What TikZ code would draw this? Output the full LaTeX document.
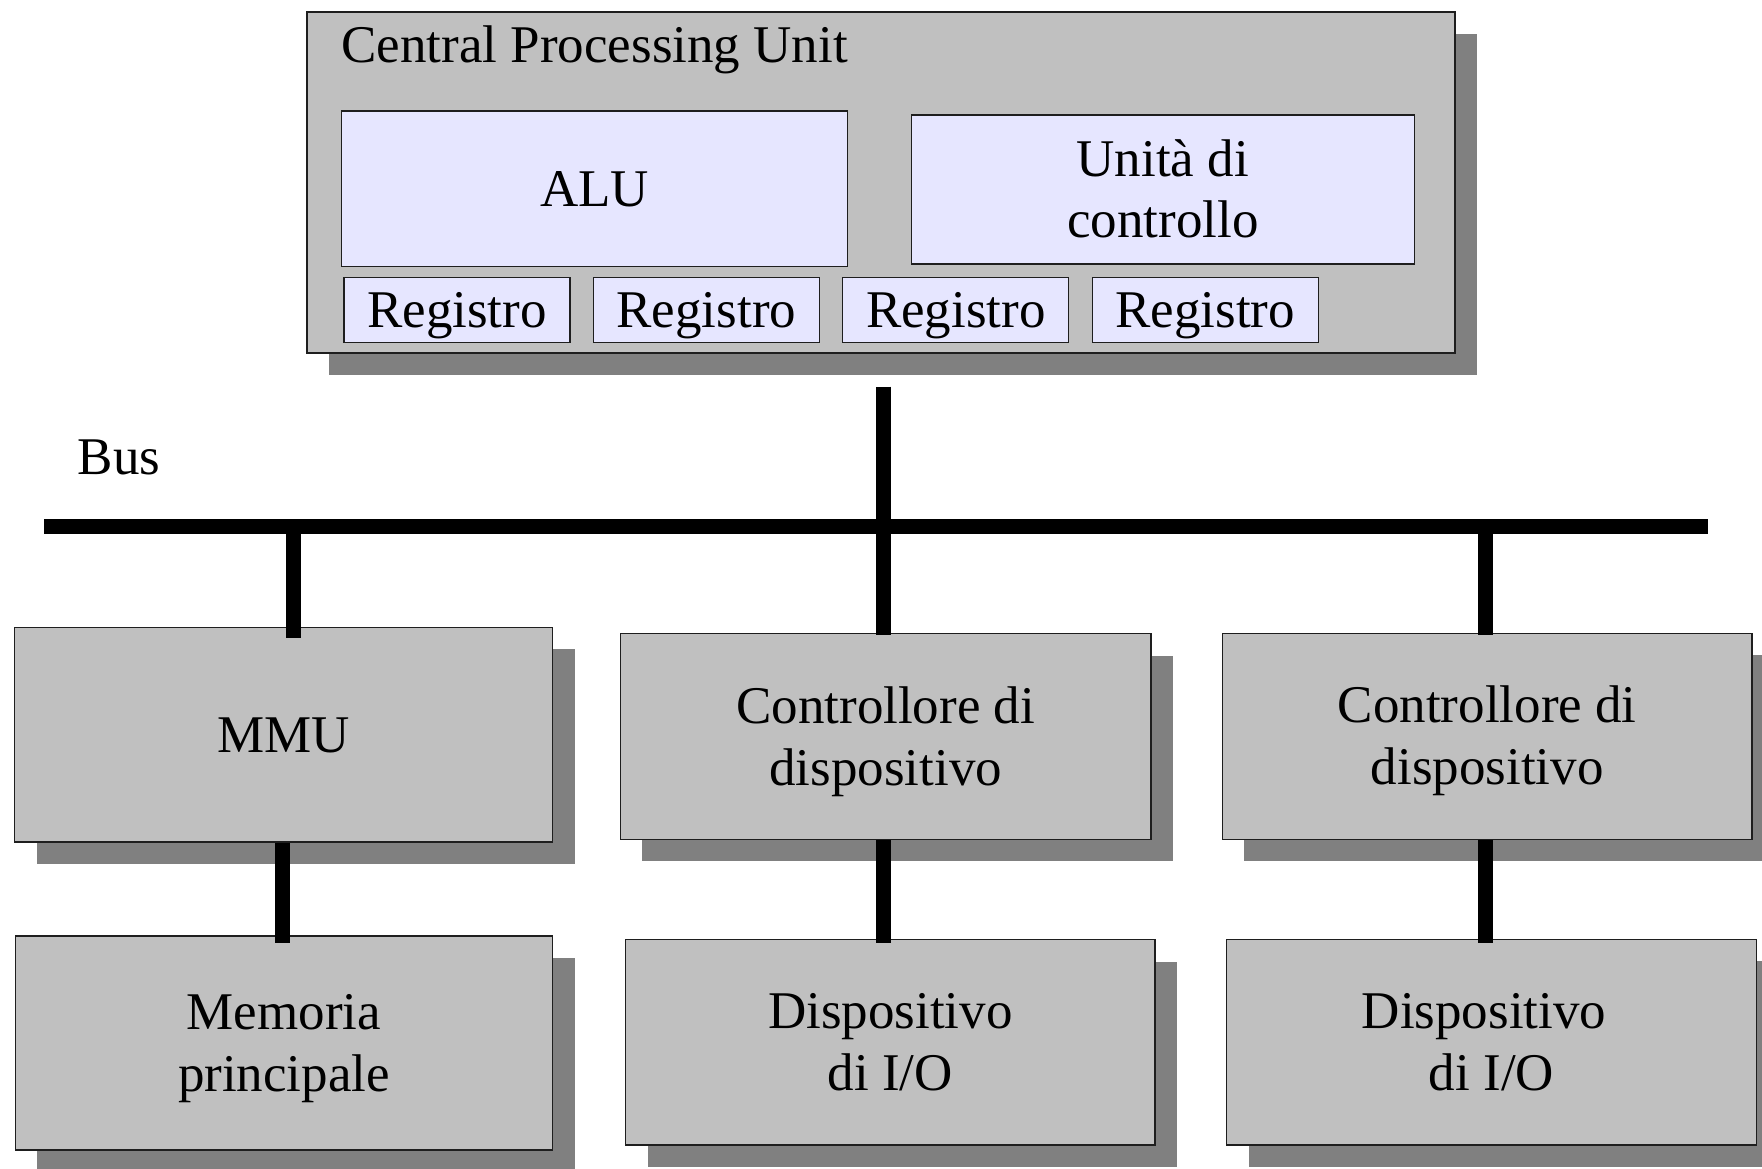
\documentclass[tikz,border=0pt]{standalone}
\usepackage{fontspec}
\setmainfont{Liberation Serif}
\usetikzlibrary{shadows,calc}

\definecolor{boxgray}{RGB}{192,192,192}
\definecolor{shadowgray}{RGB}{128,128,128}
\definecolor{lavender}{RGB}{230,230,255}
\definecolor{edge}{RGB}{30,30,30}

\begin{document}
\begin{tikzpicture}[x=1pt,y=-1pt,
  every node/.style={font=\fontsize{53pt}{62pt}\selectfont},
  % grey component box with a solid drop shadow
  unit/.style={draw=edge, line width=1.3pt, fill=boxgray, inner sep=0pt,
    align=center, text height=97pt, text depth=0pt,
    drop shadow={shadow xshift=22pt, shadow yshift=-22pt,
      fill=shadowgray, opacity=1}},
  % light parts inside the CPU
  part/.style={draw=edge, line width=1.3pt, fill=lavender, inner sep=0pt,
    align=center, text height=35pt, text depth=0pt},
  single/.style={text height=35pt, text depth=0pt},
  caption/.style={anchor=base west, inner sep=0pt},
  wire/.style={line width=15pt, black},
]
\useasboundingbox (0,0) rectangle (1762,1169);
\fill[white] (0,0) rectangle (1762,1169);

% Central processing unit with its internal parts
\node[unit, minimum width=1148pt, minimum height=341pt] (cpu) at (881,182.5) {};
\node[caption] (cputitle) at ($(cpu.north west)+(35,51)$) {Central Processing Unit};
\node[part, minimum width=506pt, minimum height=155.7pt] (alu) at (594.6,188.9) {ALU};
\node[part, text height=97pt, minimum width=502.8pt, minimum height=149pt] (cu)
  at (1162.8,189.5) {Unità di\\controllo};
\foreach \i in {0,...,3}
  \node[part, minimum width=226pt, minimum height=65pt] (reg\i)
    at (457+249.4*\i,309.8) {Registro};

% bus
\coordinate (busW) at (44,526);
\coordinate (busE) at (1708,526);
\node[caption] (buslabel) at (77.5,474) {Bus};

% units attached to the bus
\node[unit, single, minimum width=538pt, minimum height=214.7pt] (mmu) at (283.5,734.7) {MMU};
\node[unit, minimum width=530.7pt, minimum height=205.6pt] (ctrlA) at (885.7,736.5)
  {Controllore di\\dispositivo};
\node[unit, minimum width=529.7pt, minimum height=206pt] (ctrlB) at (1487.2,736.3)
  {Controllore di\\dispositivo};

% memory and devices
\node[unit, minimum width=537.3pt, minimum height=214pt] (mem) at (284,1043)
  {Memoria\\principale};
\node[unit, minimum width=529.4pt, minimum height=205.3pt] (devA) at (890.3,1042.3)
  {Dispositivo\\di I/O};
\node[unit, minimum width=530pt, minimum height=205.7pt] (devB) at (1491.5,1042.2)
  {Dispositivo\kern15pt\\di I/O};

% connections
\draw[wire] (busW) -- (busE);
\coordinate (cpuport) at ($(cpu.south)+(2,33)$);
\draw[wire] (cpuport) -- (cpuport |- busW);
\coordinate (mmuin) at ($(mmu.north)+(10.2,11)$);
\draw[wire] (mmuin |- busW) -- (mmuin);
\coordinate (ctrlAin) at ($(ctrlA.north)+(-2.1,2)$);
\draw[wire] (ctrlAin |- busW) -- (ctrlAin);
\coordinate (ctrlBin) at ($(ctrlB.north)+(-1.9,2.7)$);
\draw[wire] (ctrlBin |- busW) -- (ctrlBin);
\coordinate (memin) at ($(mem.north)+(-1.2,8)$);
\draw[wire] (memin |- mmu.south) -- (memin);
\coordinate (devAin) at ($(devA.north)+(-6.7,4.3)$);
\draw[wire] (devAin |- ctrlA.south) -- (devAin);
\coordinate (devBin) at ($(devB.north)+(-6.2,4.7)$);
\draw[wire] (devBin |- ctrlB.south) -- (devBin);
\end{tikzpicture}
\end{document}
